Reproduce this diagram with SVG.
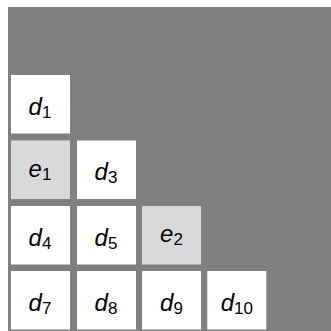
<svg xmlns="http://www.w3.org/2000/svg" width="331" height="331" viewBox="0 0 331 331">
<style>
.bg{fill:#808080}
.cell{fill:#ffffff}
.hl{fill:#d9d9d9}
text{font-family:"Liberation Sans",Arial,sans-serif;font-style:italic;font-size:24px;fill:#000;text-anchor:middle}
.sub{font-size:17px;font-style:normal}
</style>
<rect x="0" y="0" width="331" height="331" fill="#ffffff"/>
<rect class="bg" x="8" y="7" width="323" height="324"/>
<g id="d1"><rect class="cell" x="11" y="75" width="59" height="58.5"/><text x="40" y="114.5">d<tspan class="sub" dy="3">1</tspan></text></g>
<g id="e1"><rect class="hl" x="11" y="140.5" width="59" height="58.5"/><text x="40" y="176.5">e<tspan class="sub" dy="3">1</tspan></text></g>
<g id="d3"><rect class="cell" x="77" y="140.5" width="59" height="58.5"/><text x="106" y="180">d<tspan class="sub" dy="3">3</tspan></text></g>
<g id="d4"><rect class="cell" x="11" y="206" width="59" height="58.5"/><text x="40" y="245.5">d<tspan class="sub" dy="3">4</tspan></text></g>
<g id="d5"><rect class="cell" x="77" y="206" width="59" height="58.5"/><text x="106" y="245.5">d<tspan class="sub" dy="3">5</tspan></text></g>
<g id="e2"><rect class="hl" x="142" y="206" width="59" height="58.5"/><text x="171.5" y="242">e<tspan class="sub" dy="3">2</tspan></text></g>
<g id="d7"><rect class="cell" x="11" y="271" width="59" height="58.5"/><text x="40" y="310.5">d<tspan class="sub" dy="3">7</tspan></text></g>
<g id="d8"><rect class="cell" x="77" y="271" width="59" height="58.5"/><text x="106" y="310.5">d<tspan class="sub" dy="3">8</tspan></text></g>
<g id="d9"><rect class="cell" x="142" y="271" width="59" height="58.5"/><text x="171.5" y="310.5">d<tspan class="sub" dy="3">9</tspan></text></g>
<g id="d10"><rect class="cell" x="207.3" y="271" width="59" height="58.5"/><text x="236.8" y="310.5">d<tspan class="sub" dy="3">10</tspan></text></g>
<g id="connectors"></g>
</svg>
